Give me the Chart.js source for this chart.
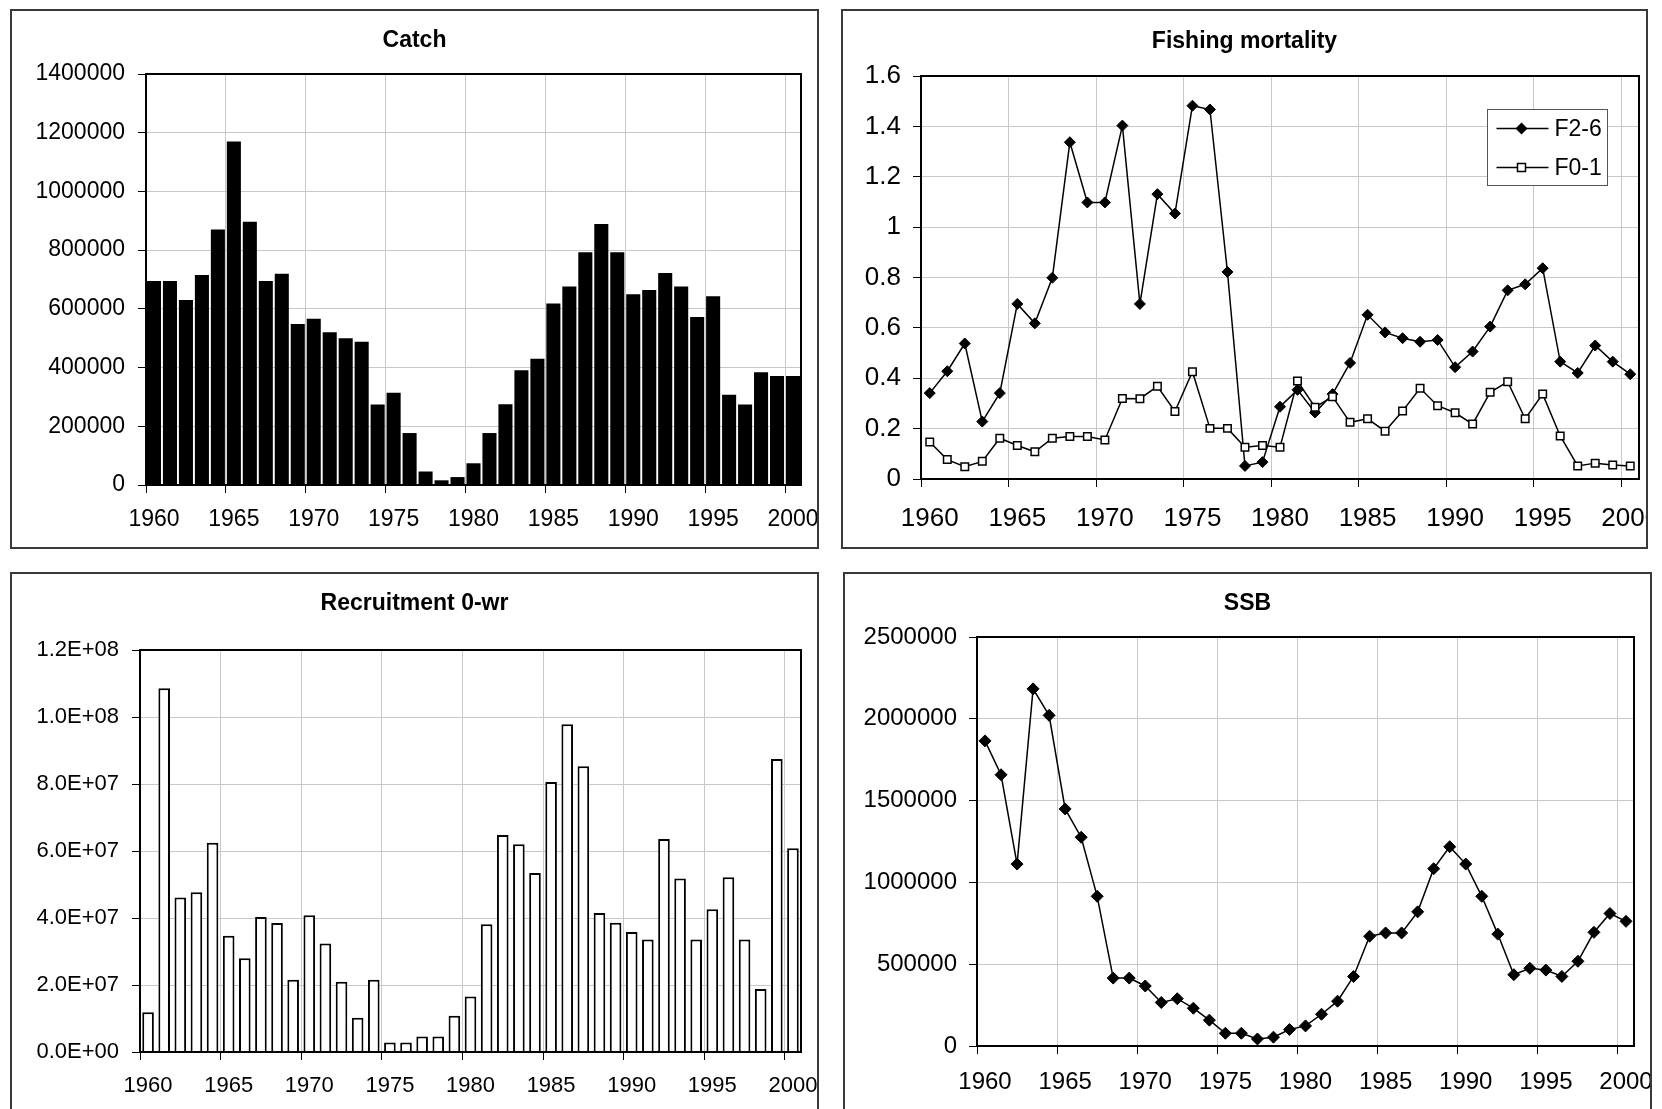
<!DOCTYPE html>
<html>
<head>
<meta charset="utf-8">
<script src="https://cdn.jsdelivr.net/npm/chart.js@4.4.1/dist/chart.umd.min.js"></script>
<style>
  html, body { margin: 0; padding: 0; background: #fff; }
  body { width: 1662px; height: 1109px; position: relative; overflow: hidden; }
  .panel { position: absolute; box-sizing: border-box; border: 2px solid #3a3a3a; overflow: hidden; background: #fff; }
  .panel canvas { position: absolute; left: 0; top: 0; }
</style>
</head>
<body>
<div class="panel" style="left:10px;top:9px;width:809px;height:540px"><canvas id="catch" width="805" height="536"></canvas></div>
<div class="panel" style="left:841px;top:9px;width:807px;height:540px"><canvas id="fmort" width="803" height="536"></canvas></div>
<div class="panel" style="left:10px;top:572px;width:809px;height:570px"><canvas id="recruit" width="805" height="566"></canvas></div>
<div class="panel" style="left:843px;top:572px;width:809px;height:570px"><canvas id="ssb" width="805" height="566"></canvas></div>

<script>
// --- данные ---
const years = [
  '1960', '1961', '1962', '1963', '1964', '1965', '1966', '1967', '1968', '1969',
  '1970', '1971', '1972', '1973', '1974', '1975', '1976', '1977', '1978', '1979',
  '1980', '1981', '1982', '1983', '1984', '1985', '1986', '1987', '1988', '1989',
  '1990', '1991', '1992', '1993', '1994', '1995', '1996', '1997', '1998', '1999',
  '2000',
];

const catchT = [
  695000, 695000, 630000, 715000, 870000, 1170000, 897000, 695000, 720000, 548000,
  566000, 520000, 500000, 488000, 274000, 314000, 177000, 46000, 16000, 27000,
  74000, 177000, 275000, 391000, 430000, 618000, 676000, 793000, 889000, 793000,
  650000, 664000, 722000, 676000, 572000, 643000, 307000, 274000, 384000, 371000,
  371000,
];

const f26 = [
  0.341, 0.428, 0.538, 0.228, 0.341, 0.695, 0.618, 0.799, 1.337, 1.098,
  1.098, 1.403, 0.695, 1.131, 1.054, 1.482, 1.467, 0.822, 0.052, 0.067,
  0.287, 0.354, 0.264, 0.337, 0.461, 0.652, 0.582, 0.559, 0.545, 0.552,
  0.444, 0.506, 0.605, 0.749, 0.773, 0.837, 0.466, 0.421, 0.530, 0.466,
  0.416,
];

const f01 = [
  0.147, 0.077, 0.049, 0.070, 0.162, 0.133, 0.108, 0.162, 0.169, 0.169,
  0.155, 0.320, 0.319, 0.368, 0.268, 0.426, 0.201, 0.201, 0.126, 0.133,
  0.126, 0.389, 0.285, 0.327, 0.225, 0.239, 0.190, 0.270, 0.360, 0.291,
  0.263, 0.218, 0.344, 0.386, 0.239, 0.337, 0.171, 0.052, 0.063, 0.056,
  0.052,
];

const recruits = [
  11900000, 108600000, 46100000, 47700000, 62500000, 34700000, 28000000, 40300000, 38500000, 21600000,
  40800000, 32400000, 21000000, 10200000, 21600000, 2800000, 2800000, 4600000, 4600000, 10800000,
  16600000, 38100000, 64800000, 62000000, 53400000, 80600000, 97800000, 85300000, 41500000, 38600000,
  35800000, 33600000, 63600000, 51800000, 33600000, 42600000, 52200000, 33600000, 18800000, 87500000,
  60800000,
];

const ssb = [
  1865000, 1658000, 1112000, 2183000, 2021000, 1449000, 1276000, 915000, 415000, 415000,
  367000, 266000, 289000, 231000, 158000, 78000, 78000, 43000, 54000, 101000,
  123000, 194000, 274000, 425000, 671000, 691000, 691000, 820000, 1084000, 1218000,
  1112000, 915000, 684000, 436000, 475000, 464000, 425000, 518000, 695000, 810000,
  762000,
];

const fLegendLabels = ['F2-6', 'F0-1'];

// --- оформление ---
const FONT = "'Liberation Sans', Arial, sans-serif";
const GRID = '#c8c8c8';

/** Рамка области построения */
const plotFrame = {
  id: 'plotFrame',
  afterDatasetsDraw(chart) {
    const { ctx, chartArea: a } = chart;
    ctx.save();
    ctx.strokeStyle = '#000';
    ctx.lineWidth = 2;
    ctx.strokeRect(a.left, a.top, a.right - a.left, a.bottom - a.top);
    ctx.restore();
  },
};

/** Легенда F2-6 / F0-1 в стиле Excel */
const fLegend = {
  id: 'fLegend',
  afterDraw(chart) {
    const { ctx, chartArea: a } = chart;
    const w = 120, h = 76;
    const x0 = Math.round(a.right - 32 - w) + 0.5;
    const y0 = Math.round(a.top + 33) + 0.5;
    ctx.save();
    ctx.fillStyle = '#fff';
    ctx.fillRect(x0, y0, w, h);
    ctx.strokeStyle = '#555';
    ctx.lineWidth = 1;
    ctx.strokeRect(x0, y0, w, h);

    const rows = [y0 + 19, y0 + 58];
    rows.forEach((y, i) => {
      ctx.strokeStyle = '#000';
      ctx.lineWidth = 1.5;
      ctx.beginPath();
      ctx.moveTo(x0 + 9, y);
      ctx.lineTo(x0 + 61, y);
      ctx.stroke();
      const cx = x0 + 34;
      if (i === 0) {
        ctx.fillStyle = '#000';
        ctx.beginPath();
        ctx.moveTo(cx - 6, y); ctx.lineTo(cx, y - 6);
        ctx.lineTo(cx + 6, y); ctx.lineTo(cx, y + 6);
        ctx.closePath();
        ctx.fill();
      } else {
        ctx.fillStyle = '#fff';
        ctx.fillRect(cx - 4, y - 4, 8, 8);
        ctx.strokeRect(cx - 4, y - 4, 8, 8);
      }
      ctx.fillStyle = '#000';
      ctx.font = `23px ${FONT}`;
      ctx.textBaseline = 'middle';
      ctx.textAlign = 'left';
      ctx.fillText(fLegendLabels[i], x0 + 67, y + 1);
    });
    ctx.restore();
  },
};

// xRight — отступ справа через padding шкалы, чтобы заголовок оставался по центру холста
function xAxis(fontSize, tickPad, xHeight, xRight) {
  return {
    type: 'category',
    offset: true,
    grid: {
      offset: true,
      color: c => (c.index % 5 === 0 ? GRID : 'transparent'),
      tickColor: c => (c.index % 5 === 0 ? '#000' : 'transparent'),
      tickLength: 8,
      lineWidth: 1,
    },
    border: { color: '#000', width: 2 },
    ticks: {
      autoSkip: false,
      maxRotation: 0,
      minRotation: 0,
      padding: tickPad,
      color: '#000',
      font: { family: FONT, size: fontSize },
      callback(v, i) { return i % 5 === 0 ? this.getLabelForValue(v) : ''; },
    },
    afterFit: s => { s.height = xHeight; s.paddingLeft = 0; s.paddingRight = xRight; },
  };
}

function yAxis(max, step, fontSize, tickPad, yWidth, fmt) {
  return {
    min: 0,
    max,
    grid: { color: GRID, tickColor: '#000', tickLength: 8, lineWidth: 1 },
    border: { color: '#000', width: 2 },
    ticks: {
      stepSize: step,
      padding: tickPad,
      color: '#000',
      font: { family: FONT, size: fontSize },
      callback: fmt,
    },
    afterFit: s => { s.width = yWidth; },
  };
}

function title(text, top, bottom) {
  return {
    display: true,
    text,
    color: '#000',
    font: { family: FONT, size: 23, weight: 'bold' },
    padding: { top, bottom },
  };
}

const plain = v => String(v);
const oneDec = v => String(Math.round(v * 10) / 10);
function sci(v) {
  if (v === 0) return '0.0E+00';
  const e = Math.floor(Math.log10(v) + 1e-9);
  const m = v / Math.pow(10, e);
  return m.toFixed(1) + 'E+' + String(e).padStart(2, '0');
}

const common = {
  responsive: false,
  animation: false,
  events: [],
  layout: { padding: 0 },
};

// --- Catch ---
new Chart(document.getElementById('catch'), {
  type: 'bar',
  data: {
    labels: years,
    datasets: [{
      data: catchT,
      backgroundColor: '#000',
      borderWidth: 0,
      barPercentage: 0.88,
      categoryPercentage: 1,
    }],
  },
  options: {
    ...common,
    plugins: { legend: { display: false }, tooltip: { enabled: false }, title: title('Catch', 16.2, 19.2) },
    scales: {
      x: xAxis(23, 12.7, 62, 16),
      y: yAxis(1400000, 200000, 23, 13, 134, plain),
    },
  },
  plugins: [plotFrame],
});

// --- Fishing mortality ---
new Chart(document.getElementById('fmort'), {
  type: 'line',
  data: {
    labels: years,
    datasets: [
      {
        label: fLegendLabels[0],
        data: f26,
        order: 1,
        borderColor: '#000',
        borderWidth: 1.5,
        tension: 0,
        pointStyle: 'rectRot',
        pointRadius: 5.5,
        pointBackgroundColor: '#000',
        pointBorderColor: '#000',
        pointBorderWidth: 1,
      },
      {
        label: fLegendLabels[1],
        data: f01,
        order: 0,
        borderColor: '#000',
        borderWidth: 1.5,
        tension: 0,
        pointStyle: 'rect',
        pointRadius: 5.3,
        pointBackgroundColor: '#fff',
        pointBorderColor: '#000',
        pointBorderWidth: 1.5,
      },
    ],
  },
  options: {
    ...common,
    plugins: { legend: { display: false }, tooltip: { enabled: false }, title: title('Fishing mortality', 17.2, 20.2) },
    scales: {
      x: xAxis(26, 16, 68, 7),
      y: yAxis(1.6, 0.2, 26, 12, 78, oneDec),
    },
  },
  plugins: [plotFrame, fLegend],
});

// --- Recruitment ---
new Chart(document.getElementById('recruit'), {
  type: 'bar',
  data: {
    labels: years,
    datasets: [{
      data: recruits,
      backgroundColor: '#fff',
      borderColor: '#000',
      borderWidth: 2,
      barPercentage: 0.72,
      categoryPercentage: 1,
    }],
  },
  options: {
    ...common,
    plugins: { legend: { display: false }, tooltip: { enabled: false }, title: title('Recruitment 0-wr', 16.2, 32.2) },
    scales: {
      x: xAxis(22, 12.6, 88, 16),
      y: yAxis(120000000, 20000000, 22, 13, 128, sci),
    },
  },
  plugins: [plotFrame],
});

// --- SSB ---
new Chart(document.getElementById('ssb'), {
  type: 'line',
  data: {
    labels: years,
    datasets: [{
      data: ssb,
      borderColor: '#000',
      borderWidth: 1.5,
      tension: 0,
      pointStyle: 'rectRot',
      pointRadius: 6,
      pointBackgroundColor: '#000',
      pointBorderColor: '#000',
      pointBorderWidth: 1,
    }],
  },
  options: {
    ...common,
    plugins: { legend: { display: false }, tooltip: { enabled: false }, title: title('SSB', 16.2, 19.2) },
    scales: {
      x: xAxis(24, 13.5, 94, 16),
      y: yAxis(2500000, 500000, 24, 12, 132, plain),
    },
  },
  plugins: [plotFrame],
});
</script>
</body>
</html>
